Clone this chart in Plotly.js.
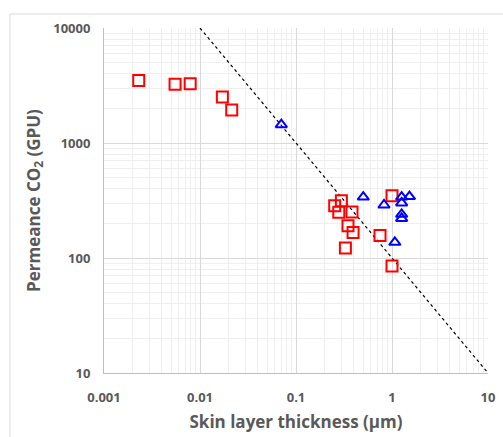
<!DOCTYPE html>
<html>
<head>
<meta charset="utf-8">
<script src="https://cdn.plot.ly/plotly-3.0.1.min.js"></script>
<style>html,body{margin:0;padding:0;background:#fff;}#chart{width:503px;height:437px;}</style>
</head>
<body>
<div id="chart"></div>
<script>
// Red squares series
const squareThickness = [0.0023, 0.0055, 0.0079, 0.0171, 0.0214, 0.253, 0.297, 0.279, 0.383, 0.348, 0.393, 0.327, 0.75, 1.0, 1.0];
const squarePermeance = [3500, 3240, 3280, 2510, 1940, 285, 315, 250, 251, 191, 167, 122, 157, 348, 85];
// Blue triangles series
const triThickness = [0.0703, 0.502, 0.826, 1.26, 1.52, 1.26, 1.26, 1.26, 1.07];
const triPermeance = [1442, 339, 289, 339, 342, 301, 240, 221, 137];
// Dotted trend line
const lineThickness = [0.01, 10];
const linePermeance = [10000, 10];
// Tick labels
const xTickVals = [0.001, 0.01, 0.1, 1, 10];
const xTickText = ['0.001', '0.01', '0.1', '1', '10'];
const yTickVals = [10, 100, 1000, 10000];
const yTickText = ['10', '100', '1000', '10000'];

const fontFam = 'Open Sans, Liberation Sans, sans-serif';
const traces = [
  {x: lineThickness, y: linePermeance, mode: 'lines', line: {color: '#000', dash: 'dot', width: 1.2}, showlegend: false, hoverinfo: 'skip'},
  {x: squareThickness, y: squarePermeance, mode: 'markers', showlegend: false,
   marker: {symbol: 'square-open', size: 11, color: '#ff0000', line: {width: 2, color: '#ff0000'}}},
  {x: triThickness, y: triPermeance, mode: 'markers', showlegend: false,
   marker: {symbol: 'triangle-up-open', size: 10, color: '#0000ff', line: {width: 2, color: '#0000ff'}}}
];

const layout = {
  width: 503, height: 437,
  margin: {l: 104, r: 15, t: 28, b: 64},
  paper_bgcolor: '#fff', plot_bgcolor: '#fff',
  font: {family: fontFam, color: '#595959', size: 13},
  xaxis: {
    type: 'log', range: [-3, 1],
    tickvals: xTickVals, ticktext: xTickText,
    tickfont: {size: 13, weight: 'bold', color: '#595959', family: fontFam},
    ticks: '', ticklabelstandoff: 12,
    showline: true, linecolor: '#bfbfbf', linewidth: 1,
    showgrid: true, gridcolor: '#d9d9d9', gridwidth: 1,
    minor: {dtick: 'D1', showgrid: true, gridcolor: '#efefef', gridwidth: 1, ticks: ''},
    zeroline: false,
    title: {text: 'Skin layer thickness (μm)', font: {size: 17, weight: 'bold', color: '#595959', family: fontFam}, standoff: 11}
  },
  yaxis: {
    type: 'log', range: [1, 4],
    tickvals: yTickVals, ticktext: yTickText,
    tickfont: {size: 13, weight: 'bold', color: '#595959', family: fontFam},
    ticks: '', ticklabelstandoff: 10,
    showline: true, linecolor: '#bfbfbf', linewidth: 1,
    showgrid: true, gridcolor: '#d9d9d9', gridwidth: 1,
    minor: {dtick: 'D1', showgrid: true, gridcolor: '#efefef', gridwidth: 1, ticks: ''},
    zeroline: false,
    title: {text: 'Permeance CO<sub>2</sub> (GPU)', font: {size: 17, weight: 'bold', color: '#595959', family: fontFam}, standoff: 8}
  },
  shapes: [
    {type: 'rect', xref: 'paper', yref: 'paper', x0: -94/384, x1: 1.5, y0: -1, y1: 1 + 14/345,
     line: {color: '#d9d9d9', width: 1}, fillcolor: 'rgba(0,0,0,0)', layer: 'below'}
  ]
};

Plotly.newPlot('chart', traces, layout, {displayModeBar: false, staticPlot: true});
</script>
</body>
</html>
